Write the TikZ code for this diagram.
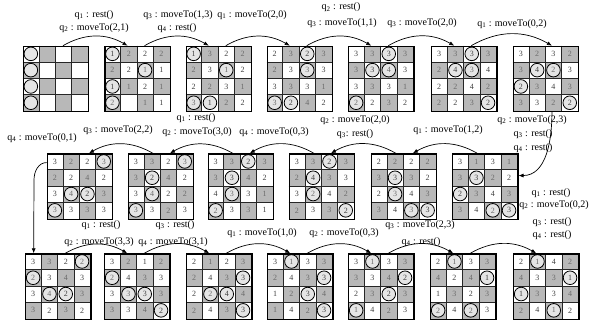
\documentclass[tikz,border=0pt]{standalone}
\usepackage{fontspec}
\setmainfont{Liberation Serif}
\usetikzlibrary{arrows.meta}

\colorlet{cellgray}{black!28}
\colorlet{ringfill}{black!10}
\colorlet{numdark}{black!75}
\colorlet{numgray}{black!58}

\newcommand\qsub[1]{q\textsubscript{#1}}
\newcommand\cellw{16.3}

% one 4x4 board: name, left, top, 16 cells as value/style
\newcommand\stategrid[4]{%
  \begin{scope}[shift={(#2,#3)}]
    \foreach \v/\s [count=\k from 0] in {#4} {
      \pgfmathtruncatemacro\rr{\k/4}
      \pgfmathtruncatemacro\cl{mod(\k,4)}
      \pgfmathtruncatemacro\od{mod(\rr+\cl,2)}
      \ifnum\od=1 \def\bg{cellgray}\def\tc{numgray}\else\def\bg{white}\def\tc{numdark}\fi
      \fill[\bg] (\cl*\cellw,\rr*\cellw) rectangle ++(\cellw,\cellw);
      \node[\s, text=\tc] (#1-\k) at (\cl*\cellw+\cellw/2,\rr*\cellw+\cellw/2) {\v};
    }
    \foreach \t in {1,2,3} {
      \draw[cellline] (\t*\cellw,0) -- (\t*\cellw,4*\cellw);
      \draw[cellline] (0,\t*\cellw) -- (4*\cellw,\t*\cellw);
    }
    \node[gridframe, anchor=north west] (#1) at (0,0) {};
  \end{scope}
}

\begin{document}
\begin{tikzpicture}[x=1pt, y=-1pt,
  cc/.style = {circle, draw, fill=ringfill, line width=0.8pt, minimum size=13.6pt, inner sep=0pt, font=\fontsize{8}{8}\selectfont},
  nn/.style = {inner sep=0pt, font=\fontsize{8}{8}\selectfont},
  gridframe/.style = {draw, line width=1.3pt, minimum size=65.2pt, inner sep=0pt},
  cellline/.style = {line width=0.8pt, black!85},
  stepto/.style = {-{Latex[length=5pt,width=4pt]}, line width=0.7pt},
  lbl/.style = {font=\fontsize{10}{12}\selectfont, inner sep=0pt}
]
\useasboundingbox (0,0) rectangle (589,324);

% Boards, first row
\stategrid{s1}{22.7}{45.7}{{}/cc,{}/nn,{}/nn,{}/nn, {}/cc,{}/nn,{}/nn,{}/nn, {}/cc,{}/nn,{}/nn,{}/nn, {}/cc,{}/nn,{}/nn,{}/nn}
\stategrid{s2}{104.3}{45.7}{1/cc,2/nn,2/nn,2/nn, 2/nn,2/nn,1/cc,1/nn, 1/cc,1/nn,2/nn,1/nn, 2/cc,{}/nn,1/nn,1/nn}
\stategrid{s3}{185.5}{45.7}{1/cc,3/nn,2/nn,2/nn, 2/nn,3/nn,1/cc,2/nn, 2/nn,2/nn,3/nn,1/nn, 3/cc,1/cc,2/nn,2/nn}
\stategrid{s4}{266.5}{45.7}{2/nn,3/nn,2/cc,3/nn, 2/nn,3/nn,3/cc,3/nn, 3/nn,3/nn,3/nn,1/nn, 3/cc,2/cc,4/nn,2/nn}
\stategrid{s5}{348}{45.7}{3/nn,3/nn,3/cc,3/nn, 3/nn,3/cc,4/cc,3/nn, 3/nn,3/nn,3/nn,1/nn, 2/cc,2/nn,3/nn,2/nn}
\stategrid{s6}{431}{45.7}{3/nn,3/nn,3/cc,3/nn, 2/nn,4/cc,3/cc,4/nn, 2/nn,2/nn,4/nn,2/nn, 2/nn,2/nn,3/nn,2/cc}
\stategrid{s7}{512.7}{45.7}{3/nn,2/nn,3/nn,2/nn, 3/nn,4/cc,2/cc,3/nn, 2/cc,3/nn,4/nn,3/nn, 3/nn,3/nn,2/nn,2/cc}

% Boards, second row (read right to left)
\stategrid{s8}{452}{153.3}{3/nn,1/nn,3/nn,1/nn, 3/nn,3/cc,2/nn,2/nn, 2/cc,3/nn,4/nn,3/nn, 3/nn,4/nn,2/cc,3/cc}
\stategrid{s9}{370.6}{153.3}{2/nn,2/nn,2/nn,2/nn, 3/nn,3/cc,3/nn,2/nn, 2/nn,3/cc,4/nn,3/nn, 3/nn,4/nn,3/cc,3/cc}
\stategrid{s10}{288.7}{153.3}{3/nn,3/nn,2/cc,3/nn, 2/nn,4/cc,3/nn,3/nn, 3/nn,2/cc,4/nn,2/nn, 2/nn,3/nn,3/nn,2/cc}
\stategrid{s11}{207.5}{153.3}{3/nn,3/nn,2/cc,3/nn, 3/nn,3/cc,4/nn,2/nn, 4/nn,3/cc,3/nn,1/nn, 2/cc,3/nn,3/nn,1/nn}
\stategrid{s12}{127.7}{153.3}{3/nn,3/nn,2/nn,3/cc, 3/nn,2/cc,4/nn,2/nn, 3/nn,4/cc,2/nn,2/nn, 3/cc,3/nn,2/nn,3/nn}
\stategrid{s13}{46.7}{153.3}{3/nn,2/nn,2/nn,3/cc, 2/nn,2/nn,4/nn,2/nn, 3/nn,4/cc,2/cc,3/nn, 3/cc,3/nn,3/nn,3/nn}

% Boards, third row
\stategrid{s14}{25}{253.3}{3/nn,3/nn,2/nn,2/cc, 2/cc,3/nn,4/nn,3/nn, 3/nn,4/cc,2/cc,3/nn, 3/nn,2/nn,3/nn,2/nn}
\stategrid{s15}{104}{253.3}{3/nn,2/nn,1/nn,2/nn, 2/cc,4/nn,3/nn,3/nn, 3/nn,3/cc,3/cc,3/nn, 3/nn,3/nn,4/nn,2/cc}
\stategrid{s16}{186}{253.3}{2/nn,1/nn,2/nn,3/nn, 2/nn,4/nn,3/nn,3/cc, 2/nn,2/cc,4/cc,4/nn, 2/nn,4/nn,3/nn,3/cc}
\stategrid{s17}{267}{253.3}{3/nn,1/cc,3/nn,3/nn, 2/nn,4/nn,3/nn,3/cc, 1/nn,2/nn,3/cc,4/nn, 1/nn,4/nn,2/nn,3/cc}
\stategrid{s18}{348}{253.3}{3/nn,1/cc,3/nn,3/nn, 3/nn,3/nn,4/nn,2/cc, 2/nn,3/nn,2/cc,3/nn, 1/cc,4/nn,2/nn,3/nn}
\stategrid{s19}{430}{253.3}{2/nn,1/cc,3/nn,3/nn, 4/nn,2/nn,4/nn,1/cc, 1/nn,3/nn,2/nn,3/nn, 2/cc,4/nn,2/cc,3/nn}
\stategrid{s20}{513}{253.3}{2/nn,1/cc,4/nn,2/nn, 4/nn,3/nn,3/nn,1/cc, 1/cc,3/nn,3/nn,4/nn, 2/nn,4/nn,1/cc,2/nn}

% Transitions
\foreach \a/\b/\e in {1/2/-10,2/3/-10,3/4/-10,4/5/-10,5/6/-10,6/7/6}
  \draw[stepto] ([xshift=7]s\a.north) to[bend left=30] ([xshift=\e]s\b.north);
\draw[stepto] ([xshift=6]s7.south) to[out=-90,in=0] ([yshift=11]s8.east);
\foreach \a/\b in {8/9,9/10,10/11,11/12,12/13}
  \draw[stepto] ([xshift=-8]s\a.north) to[bend right=30] ([xshift=9]s\b.north);
\coordinate (turn) at (34,180);
\draw[stepto] ([yshift=24]s13.west) to[out=180,in=90] (turn) -- ([xshift=-24.6]s14.north);
\foreach \a/\b in {14/15,15/16,16/17,17/18,18/19,19/20}
  \draw[stepto] ([xshift=7]s\a.north) to[bend left=30] ([xshift=-10]s\b.north);

% Actions
\foreach \lx/\ly/\lt [count=\m] in {
  94/15/{\qsub1 : rest()}, 94/28/{\qsub2 : moveTo(2,1)},
  178/15/{\qsub3 : moveTo(1,3)}, 177/28/{\qsub4 : rest()},
  252/15/{\qsub1 : moveTo(2,0)},
  341/7.5/{\qsub2 : rest()}, 342/23/{\qsub3 : moveTo(1,1)},
  422/23/{\qsub3 : moveTo(2,0)},
  512/24/{\qsub1 : moveTo(0,2)},
  532/120/{\qsub2 : moveTo(2,3)}, 533/134/{\qsub3 : rest()}, 533/148/{\qsub4 : rest()},
  448/130/{\qsub1 : moveTo(1,2)},
  355/120/{\qsub2 : moveTo(2,0)}, 355/134/{\qsub3: rest()},
  274/132/{\qsub4 : moveTo(0,3)},
  196/118/{\qsub1 : rest()}, 197/132/{\qsub2 : moveTo(3,0)},
  118/130/{\qsub3 : moveTo(2,2)},
  42/138/{\qsub4 : moveTo(0,1)},
  551/193/{\qsub1 : rest()}, 554/205/{\qsub2 : moveTo(0,2)},
  552/222/{\qsub3 : rest()}, 552/235/{\qsub4 : rest()},
  101/225/{\qsub1 : rest()}, 99/242/{\qsub2 : moveTo(3,3)},
  175/225/{\qsub3 : rest()}, 173/242/{\qsub4 : moveTo(3,1)},
  262/233/{\qsub1 : moveTo(1,0)},
  344/233/{\qsub2 : moveTo(0,3)},
  420/225/{\qsub3 : moveTo(2,3)}, 421/242/{\qsub4 : rest()}}
  \node[lbl] (lab\m) at (\lx,\ly) {\lt};

\end{tikzpicture}
\end{document}
